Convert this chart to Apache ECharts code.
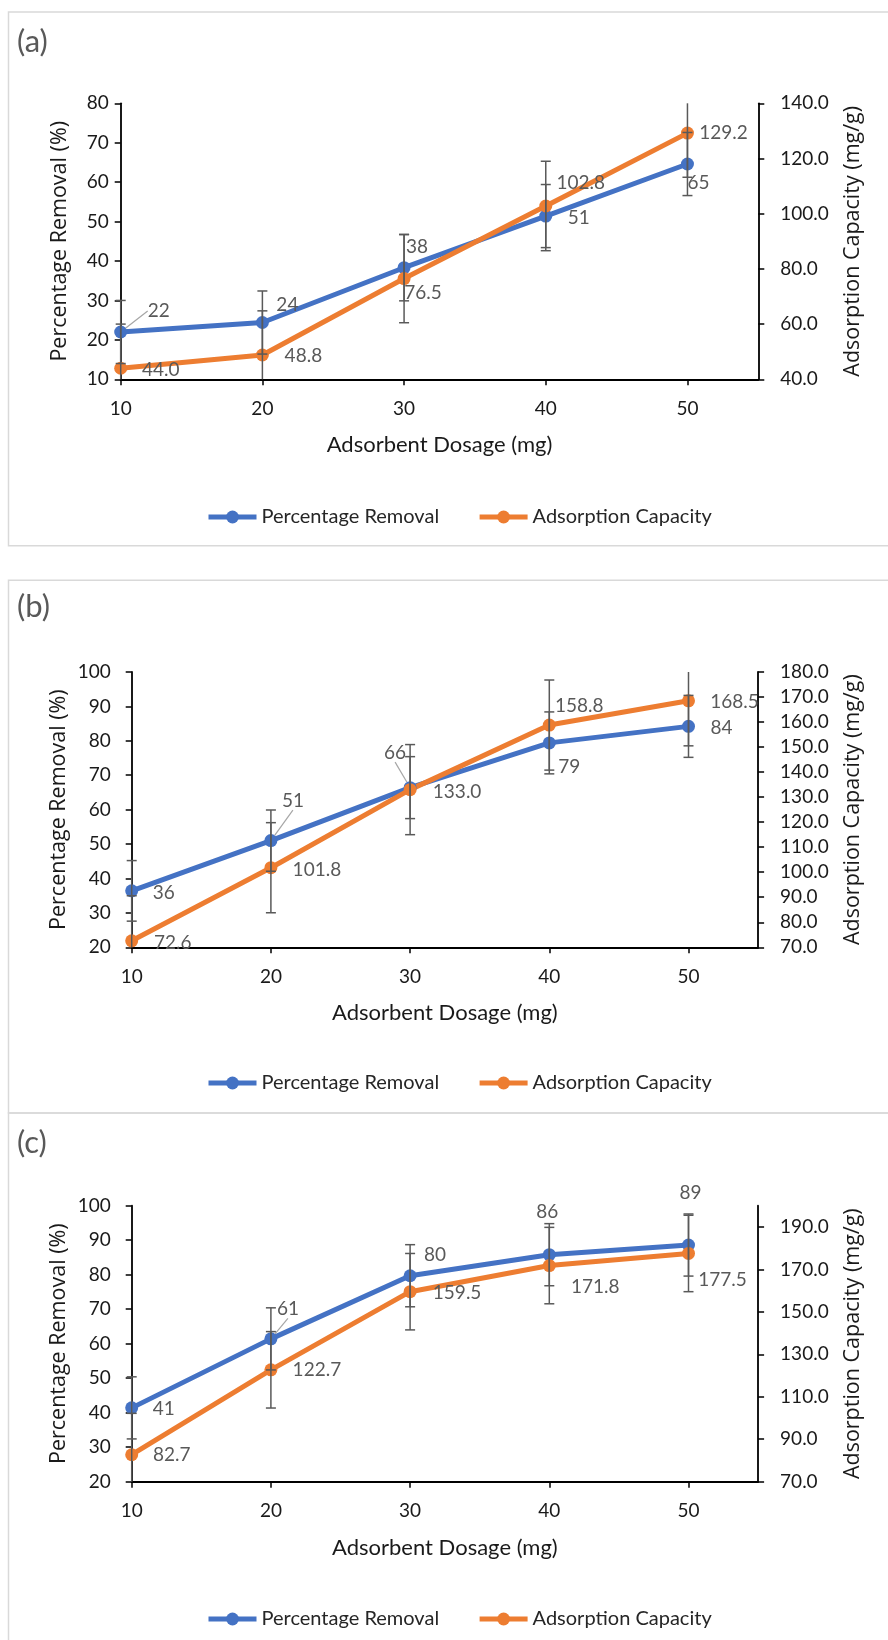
<!DOCTYPE html>
<html>
<head>
<meta charset="utf-8">
<title>Adsorbent dosage</title>
<script src="https://cdn.jsdelivr.net/npm/echarts@6.0.0/dist/echarts.min.js"></script>
<style>
  html, body { margin: 0; padding: 0; background: #fff; }
  #main { width: 888px; height: 1640px; }
</style>
</head>
<body>
<div id="main"></div>
<script>
// x values (adsorbent dosage, mg)
var dosage = [10, 20, 30, 40, 50];
var xTicks = [10, 20, 30, 40, 50];

// (a)
var removalA = [22.0, 24.4, 38.3, 51.4, 64.6];
var capacityA = [44.0, 48.8, 76.5, 102.8, 129.2];
var removalErrA = [8, 8, 8.4, 8, 8];
var capacityErrA = [16, 16, 16, 16.2, 16];
var leftTicksA = [10, 20, 30, 40, 50, 60, 70, 80];
var rightTicksA = [40, 60, 80, 100, 120, 140];

// (b)
var removalB = [36.4, 51.0, 66.4, 79.4, 84.2];
var capacityB = [72.6, 101.8, 133.0, 158.8, 168.5];
var removalErrB = [8.8, 8.9, 9, 9, 9];
var capacityErrB = [18, 18, 18, 18, 18];
var leftTicksB = [20, 30, 40, 50, 60, 70, 80, 90, 100];
var rightTicksB = [70, 80, 90, 100, 110, 120, 130, 140, 150, 160, 170, 180];

// (c)
var removalC = [41.4, 61.4, 79.7, 85.8, 88.6];
var capacityC = [82.7, 122.7, 159.5, 171.8, 177.5];
var removalErrC = [9, 9, 9, 9, 9];
var capacityErrC = [19.5, 18, 18, 18, 18];
var leftTicksC = [20, 30, 40, 50, 60, 70, 80, 90, 100];
var rightTicksC = [70, 90, 110, 130, 150, 170, 190];

var BLUE = '#4472C4', ORANGE = '#ED7D31', GREY = '#595959';
var NAME1 = 'Percentage Removal', NAME2 = 'Adsorption Capacity';

// layout + label placement for each panel
var panels = [
  {
    tag: '(a)', tagY: 42, box: [12, 545.7], legendTop: 502,
    grid: { left: 120.7, top: 103.3, width: 637.6, height: 276 },
    leftMargin: 12, leftGap: 50,
    removal: removalA, capacity: capacityA, rErr: removalErrA, cErr: capacityErrA,
    left: [10, 80], right: [40, 140], leftTicks: leftTicksA, rightTicks: rightTicksA,
    rOff: [[38, -21], [25, -18], [13, -21], [33, 2], [11, 19]], rLead: [0],
    cOff: [[40, 2], [41, 1], [19, 14], [35, -23], [36, 0]], cLead: []
  },
  {
    tag: '(b)', tagY: 607, box: [580.3, 1113], legendTop: 1068,
    grid: { left: 131.7, top: 672, width: 626.4, height: 275.3 },
    leftMargin: 21, leftGap: 62,
    removal: removalB, capacity: capacityB, rErr: removalErrB, cErr: capacityErrB,
    left: [20, 100], right: [70, 180], leftTicks: leftTicksB, rightTicks: rightTicksB,
    rOff: [[32, 2], [22, -40], [-15, -35], [20, 24], [33, 2]], rLead: [1, 2],
    cOff: [[41, 2], [46, 2], [47, 2], [30, -19], [46, 1]], cLead: []
  },
  {
    tag: '(c)', tagY: 1143, box: [1113, 1660], legendTop: 1604,
    grid: { left: 131.7, top: 1205.7, width: 626.4, height: 276 },
    leftMargin: 21, leftGap: 62,
    removal: removalC, capacity: capacityC, rErr: removalErrC, cErr: capacityErrC,
    left: [20, 100], right: [70, 200], leftTicks: leftTicksC, rightTicks: rightTicksC,
    rOff: [[32, 1], [17, -30], [25, -21], [-2, -43], [2, -52]], rLead: [1],
    cOff: [[40, 0], [46, 0], [47, 1], [46, 21], [34, 26]], cLead: []
  }
];

var tickFont = { color: '#1a1a1a', fontSize: 19, fontFamily: 'Lato' };

function errRender(min, max) {
  return function (params, api) {
    var x = api.value(0), lo = api.value(1), hi = api.value(2);
    var a = api.coord([x, Math.max(lo, min)]);
    var b = api.coord([x, Math.min(hi, max)]);
    var st = { stroke: GREY, lineWidth: 1.5 };
    var kids = [{ type: 'line', shape: { x1: a[0], y1: a[1], x2: b[0], y2: b[1] }, style: st }];
    if (lo >= min) kids.push({ type: 'line', shape: { x1: a[0] - 5, y1: a[1], x2: a[0] + 5, y2: a[1] }, style: st });
    if (hi <= max) kids.push({ type: 'line', shape: { x1: b[0] - 5, y1: b[1], x2: b[0] + 5, y2: b[1] }, style: st });
    return { type: 'group', children: kids };
  };
}

function lineSeries(name, color, vals, offs, lead, xi, yi, fmt) {
  return {
    type: 'line', name: name, xAxisIndex: xi, yAxisIndex: yi,
    data: dosage.map(function (d, k) {
      var item = { value: [d, vals[k]] };
      if (lead.indexOf(k) >= 0) item.labelLine = { show: true };
      return item;
    }),
    symbol: 'circle', symbolSize: 13,
    lineStyle: { color: color, width: 5 },
    itemStyle: { color: color },
    z: 2,
    label: {
      show: true, position: 'inside', color: GREY, fontSize: 19, fontFamily: 'Lato',
      formatter: function (p) { return fmt(p.value[1]); }
    },
    labelLayout: function (params) {
      var o = offs[params.dataIndex];
      return { dx: o[0], dy: o[1] };
    },
    labelLine: { show: false, lineStyle: { color: '#a6a6a6', width: 1.2 } }
  };
}

var grids = [], xAxes = [], yAxes = [], series = [], legends = [], graphics = [];

panels.forEach(function (p, i) {
  grids.push(Object.assign({ outerBoundsMode: 'none' }, p.grid));
  xAxes.push({
    type: 'value', gridIndex: i, min: 10, max: 55,
    name: 'Adsorbent Dosage (mg)', nameLocation: 'middle', nameGap: 55, nameMoveOverlap: false,
    nameTextStyle: { color: '#1a1a1a', fontSize: 22, fontFamily: 'Lato' },
    axisLine: { onZero: false, lineStyle: { color: '#000', width: 1.8 } },
    axisTick: { length: 6, customValues: xTicks, lineStyle: { color: '#000', width: 1.5 } },
    axisLabel: Object.assign({ margin: 20, customValues: xTicks }, tickFont),
    splitLine: { show: false }
  });
  yAxes.push({
    type: 'value', gridIndex: i, position: 'left', min: p.left[0], max: p.left[1],
    name: 'Percentage Removal (%)', nameLocation: 'middle', nameGap: p.leftGap, nameMoveOverlap: false,
    nameTextStyle: { color: '#1a1a1a', fontSize: 21.5, fontFamily: 'Open Sans' },
    axisLine: { show: true, onZero: false, lineStyle: { color: '#000', width: 1.8 } },
    axisTick: { show: true, length: 6, customValues: p.leftTicks, lineStyle: { color: '#000', width: 1.5 } },
    axisLabel: Object.assign({ margin: p.leftMargin, customValues: p.leftTicks }, tickFont),
    splitLine: { show: false }
  });
  yAxes.push({
    type: 'value', gridIndex: i, position: 'right', min: p.right[0], max: p.right[1],
    name: 'Adsorption Capacity (mg/g)', nameLocation: 'middle', nameGap: 84, nameMoveOverlap: false,
    nameTextStyle: { color: '#1a1a1a', fontSize: 21.5, fontFamily: 'Open Sans' },
    axisLine: { show: true, onZero: false, lineStyle: { color: '#000', width: 1.8 } },
    axisTick: { show: true, length: 6, customValues: p.rightTicks, lineStyle: { color: '#000', width: 1.5 } },
    axisLabel: Object.assign({
      margin: 22, customValues: p.rightTicks,
      formatter: function (v) { return v.toFixed(1); }
    }, tickFont),
    splitLine: { show: false }
  });

  var roundFmt = function (v) { return String(Math.round(v)); };
  var oneFmt = function (v) { return v.toFixed(1); };

  series.push(lineSeries(NAME1, BLUE, p.removal, p.rOff, p.rLead, i, 2 * i, roundFmt));
  series.push(lineSeries(NAME2, ORANGE, p.capacity, p.cOff, p.cLead, i, 2 * i + 1, oneFmt));

  series.push({
    type: 'custom', name: 'errR' + i, xAxisIndex: i, yAxisIndex: 2 * i, z: 5, silent: true,
    renderItem: errRender(p.left[0], p.left[1]),
    encode: { x: 0, y: [1, 2] },
    data: dosage.map(function (d, k) { return [d, p.removal[k] - p.rErr[k], p.removal[k] + p.rErr[k]]; })
  });
  series.push({
    type: 'custom', name: 'errC' + i, xAxisIndex: i, yAxisIndex: 2 * i + 1, z: 5, silent: true,
    renderItem: errRender(p.right[0], p.right[1]),
    encode: { x: 0, y: [1, 2] },
    data: dosage.map(function (d, k) { return [d, p.capacity[k] - p.cErr[k], p.capacity[k] + p.cErr[k]]; })
  });

  legends.push({
    data: [NAME1, NAME2], left: 201, top: p.legendTop,
    itemWidth: 48, itemHeight: 16, itemGap: 38, selectedMode: false,
    lineStyle: { width: 5 },
    textStyle: { color: '#262626', fontSize: 20, fontFamily: 'Lato' }
  });

  graphics.push({
    type: 'rect', silent: true, z: -10,
    shape: { x: 8.5, y: p.box[0], width: 900, height: p.box[1] - p.box[0] },
    style: { fill: 'none', stroke: '#d9d9d9', lineWidth: 1.5 }
  });
  graphics.push({
    type: 'text', silent: true, x: 17, y: p.tagY,
    style: { text: p.tag, fill: GREY, font: '31px Lato', verticalAlign: 'middle' }
  });
});

var chart = echarts.init(document.getElementById('main'));
chart.setOption({
  animation: false,
  backgroundColor: '#fff',
  grid: grids,
  xAxis: xAxes,
  yAxis: yAxes,
  legend: legends,
  series: series,
  graphic: { elements: graphics }
});
</script>
</body>
</html>
